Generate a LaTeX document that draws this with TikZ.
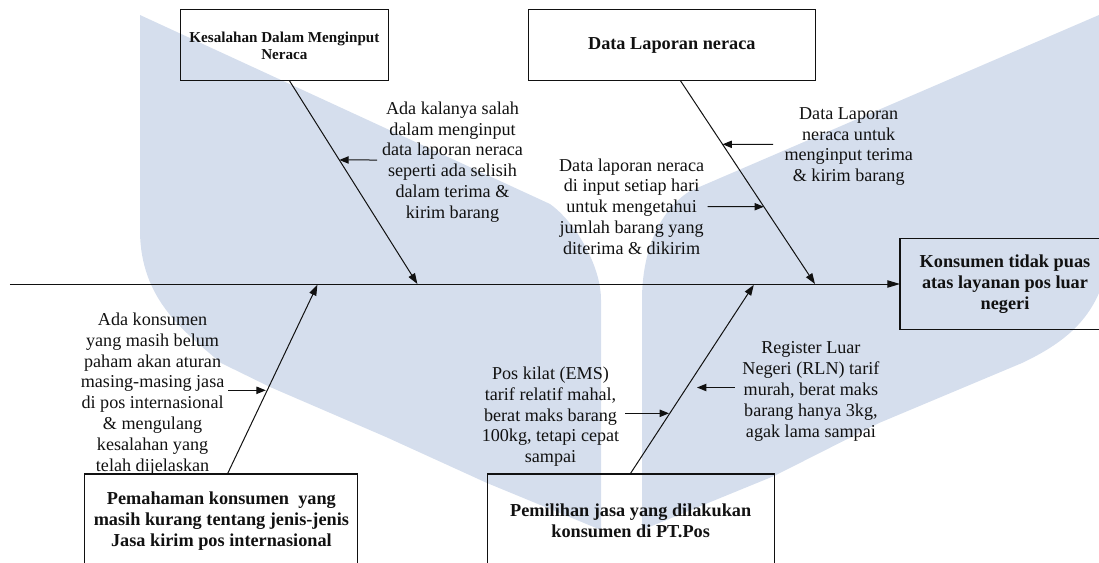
\documentclass[tikz,border=0pt]{standalone}
\usepackage{fontspec}
\setmainfont{Liberation Serif}
\usetikzlibrary{arrows.meta,calc}
\definecolor{wm}{HTML}{D5DEED}
\definecolor{ink}{HTML}{111111}
\tikzset{
  mark shape/.style={fill=wm,draw=none},
  boxnode/.style={draw=ink,line width=0.8pt,inner sep=0pt,outer sep=0pt,align=center,text=ink,font=\boldtext},
  labelnode/.style={inner sep=0pt,outer sep=0pt,align=center,text=ink,font=\plaintext},
  spine/.style={draw=ink,line width=0.75pt,-{Triangle[length=9.5pt,width=5.5pt]}},
  bone/.style={draw=ink,line width=0.75pt,-{Triangle[length=8pt,width=5.5pt]}},
  twig/.style={draw=ink,line width=0.75pt,-{Triangle[length=7pt,width=5.5pt]}}
}
\newcommand{\plaintext}{\fontsize{13.6pt}{15.6pt}\selectfont}
\newcommand{\boldtext}{\fontsize{13.7pt}{15.6pt}\selectfont\bfseries}
\newcommand{\smallbold}{\fontsize{11.35pt}{13pt}\selectfont\bfseries}
\begin{document}
\begin{tikzpicture}[x=0.75pt,y=-0.75pt]
\clip (0,0) rectangle (1099,562);
% background mark
\fill[mark shape] (140,15) -- (550,204)
  .. controls (575,222) and (601,265) .. (601,300)
  -- (601,530) -- (487,483) -- (386,437) -- (270,387) -- (221,363)
  .. controls (185,332) and (140,300) .. (140,230) -- cycle;
\fill[mark shape] (1099,15) -- (690,191)
  .. controls (660,210) and (642,250) .. (642,300)
  -- (642,530) -- (774,476) -- (879,423) -- (1022,363)
  .. controls (1060,345) and (1085,325) .. (1099,293) -- cycle;
% boxes
\node[boxnode,minimum width={208.3*0.75pt},minimum height={70.9*0.75pt},font=\smallbold] (box1) at (284.4,45.2) {\strut\raisebox{0pt}{Kesalahan Dalam Menginput}\\Neraca};
\node[boxnode,minimum width={287.2*0.75pt},minimum height={70.9*0.75pt}] (box2) at (671.8,45.2) {Data Laporan neraca};
\node[boxnode,minimum width={210*0.75pt},minimum height={90.6*0.75pt}] (box3) at (1005,284) {\rule[-1.5pt]{0pt}{0pt}Konsumen tidak puas\\atas layanan pos luar\\negeri};
\node[boxnode,minimum width={273.1*0.75pt},minimum height={94*0.75pt}] (box4) at (221.4,521) {Pemahaman konsumen\ \ yang\\masih kurang tentang jenis-jenis\\Jasa kirim pos internasional};
\node[boxnode,minimum width={286.7*0.75pt},minimum height={94*0.75pt}] (box5) at (630.7,521) {Pemilihan jasa yang dilakukan\\konsumen di PT.Pos};
% labels
\node[labelnode] (l1) at (452.5,162) {Ada kalanya salah\\dalam menginput\\data laporan neraca\\seperti ada selisih\\dalam terima \&\\kirim barang};
\node[labelnode] (l2) at (848.7,146.5) {Data Laporan\\neraca untuk\\menginput terima\\\& kirim barang};
\node[labelnode] (l3) at (631.6,206.5) {Data laporan neraca\\di input setiap hari\\untuk mengetahui\\jumlah barang yang\\diterima \& dikirim};
\node[labelnode] (l4) at (152.6,394) {Ada konsumen\\yang masih belum\\paham akan aturan\\masing-masing jasa\\di pos internasional\\\& mengulang\\kesalahan yang\\telah dijelaskan};
\node[labelnode] (l5) at (550.5,416.8) {Pos kilat (EMS)\\tarif relatif mahal,\\berat maks barang\\100kg, tetapi cepat\\sampai};
\node[labelnode] (l6) at (810.9,391.5) {Register Luar\\Negeri (RLN) tarif\\murah, berat maks\\barang hanya 3kg,\\agak lama sampai};
% anchor points
\coordinate (tail) at (9.8,284);
\coordinate (j1) at (417.4,284);
\coordinate (j2) at (815,284);
\coordinate (j4) at (317.4,284.8);
\coordinate (j5) at (753.8,284.8);
\coordinate (b1) at ($(box1.south west)!0.524!(box1.south east)$);
\coordinate (b2) at ($(box2.south west)!0.53!(box2.south east)$);
\coordinate (b4) at ($(box4.north west)!0.522!(box4.north east)$);
\coordinate (b5) at ($(box5.north west)!0.498!(box5.north east)$);
\coordinate (t1) at (377,160);
\coordinate (h1) at ($(b1)!0.39!(j1)$);
\coordinate (t2) at (773,144.3);
\coordinate (h2) at ($(b2)!0.313!(j2)$);
\coordinate (t3) at (707.6,206.7);
\coordinate (h3) at ($(b2)!0.62!(j2)$);
\coordinate (t4) at (228,390.3);
\coordinate (h4) at (265.8,390.3);
\coordinate (t5) at (625.3,413.3);
\coordinate (h5) at (669,413.3);
\coordinate (t6) at (734.5,387.5);
\coordinate (h6) at (697,387.5);
% connectors
\draw[spine] (tail) -- (box3.west);
\draw[bone] (b1) -- (j1);
\draw[bone] (b2) -- (j2);
\draw[bone] (b4) -- (j4);
\draw[bone] (b5) -- (j5);
\draw[twig] (t1) -- (h1);
\draw[twig] (t2) -- (h2);
\draw[twig] (t3) -- (h3);
\draw[twig] (t4) -- (h4);
\draw[twig] (t5) -- (h5);
\draw[twig] (t6) -- (h6);
\end{tikzpicture}
\end{document}
